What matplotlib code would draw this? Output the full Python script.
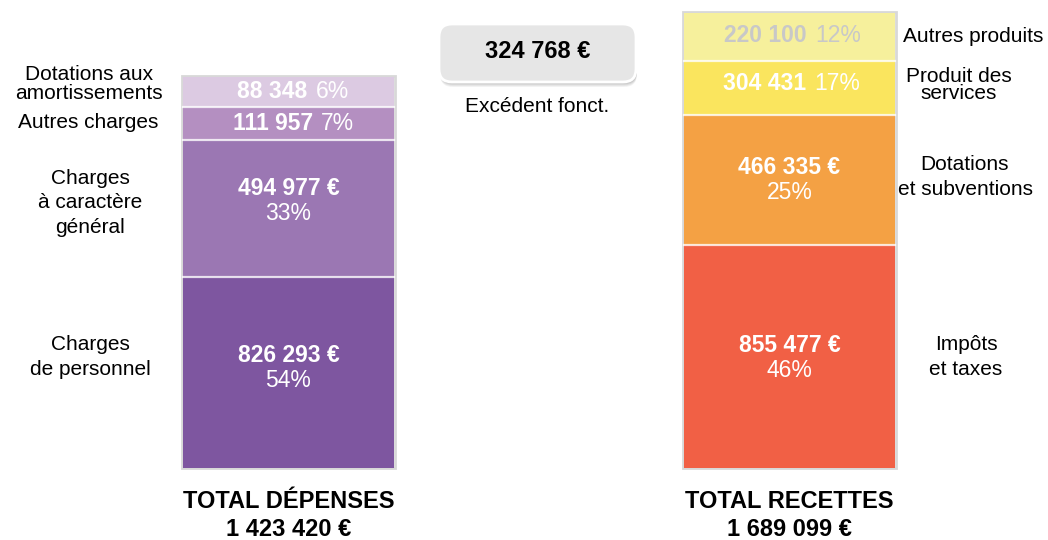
import matplotlib
matplotlib.use("Agg")
import matplotlib.pyplot as plt
from matplotlib.patches import FancyBboxPatch, Rectangle

plt.rcParams['font.family'] = ['Liberation Sans', 'DejaVu Sans']

# ---------------- data ----------------
dep_labels = ["Charges\nde personnel", "Charges\nà caractère\ngénéral", "Autres charges", "Dotations aux\namortissements"]
dep_values = ["826 293 €", "494 977 €", "111 957", "88 348"]
dep_pct = ["54%", "33%", "7%", "6%"]
dep_heights = [191, 137, 33, 30]          # segment heights as drawn in the picture
dep_colors = ["#7e56a0", "#9b77b3", "#b48fc1", "#dccae2"]

rec_labels = ["Impôts\net taxes", "Dotations\net subventions", "Produit des\nservices", "Autres produits"]
rec_values = ["855 477 €", "466 335 €", "304 431", "220 100"]
rec_pct = ["46%", "25%", "17%", "12%"]
rec_heights = [223, 130, 54, 48]
rec_colors = ["#f16045", "#f4a144", "#fae55e", "#f6f09c"]
rec_text_colors = ["white", "white", "white", "#c8c8c8"]

total_dep = "1 423 420 €"
total_rec = "1 689 099 €"
excedent = "324 768 €"

# ---------------- figure ----------------
W, H = 1048, 540
fig = plt.figure(figsize=(W / 100, H / 100), dpi=100)
ax = fig.add_axes([0, 0, 1, 1])
ax.set_xlim(0, W)
ax.set_ylim(0, H)
ax.axis('off')

base = H - 468
bar_w = 211
xl = 183 + bar_w / 2
xr = 684 + bar_w / 2


def stack(xc, heights, colors):
    bottoms = []
    b = base
    for h, c in zip(heights, colors):
        ax.bar(xc, h, bottom=b, width=bar_w, color=c, edgecolor='none', zorder=2)
        bottoms.append(b)
        b += h
    for bb in bottoms[1:]:
        ax.plot([xc - bar_w / 2, xc + bar_w / 2], [bb, bb], color='white', lw=1.6, alpha=0.8, zorder=3)
    ax.add_patch(Rectangle((xc - bar_w / 2 - 1, base), bar_w + 2, b - base + 1,
                           fill=False, edgecolor='#d8d8d8', lw=2.0, zorder=1))
    return bottoms


stack(xl, dep_heights, dep_colors)
stack(xr, rec_heights, rec_colors)

fs = 15
vfs = 16.5


def two_line(xc, yc, val, pct, col='white'):
    ax.text(xc, yc + 12.5, val, ha='center', va='center', fontsize=vfs, fontweight='bold', color=col, zorder=4)
    ax.text(xc, yc - 12.5, pct, ha='center', va='center', fontsize=vfs, color=col, zorder=4)


def one_line(xsplit, yc, val, pct, col='white'):
    ax.text(xsplit, yc, val, ha='right', va='center', fontsize=vfs, fontweight='bold', color=col, zorder=4)
    ax.text(xsplit + 8, yc, pct, ha='left', va='center', fontsize=vfs, color=col, zorder=4)


# left values
two_line(xl, H - 368, dep_values[0], dep_pct[0])
two_line(xl, H - 201, dep_values[1], dep_pct[1])
one_line(xl + 24.5, H - 124, dep_values[2], dep_pct[2])
one_line(xl + 19, H - 92, dep_values[3], dep_pct[3])

# right values
two_line(xr, H - 358, rec_values[0], rec_pct[0])
two_line(xr, H - 180, rec_values[1], rec_pct[1])
one_line(xr + 17, H - 84, rec_values[2], rec_pct[2], rec_text_colors[2])
one_line(xr + 17.5, H - 36, rec_values[3], rec_pct[3], rec_text_colors[3])

# category labels left
ax.text(90, H - 357, dep_labels[0], ha='center', va='center', fontsize=fs, linespacing=1.36)
ax.text(90, H - 203, dep_labels[1], ha='center', va='center', fontsize=fs, linespacing=1.36)
ax.text(88, H - 122, dep_labels[2], ha='center', va='center', fontsize=fs)
ax.text(89, H - 84, dep_labels[3], ha='center', va='center', fontsize=fs, linespacing=0.98)

# category labels right
ax.text(966, H - 357, rec_labels[0], ha='center', va='center', fontsize=fs, linespacing=1.36)
ax.text(965, H - 177, rec_labels[1], ha='center', va='center', fontsize=fs, linespacing=1.36)
ax.text(959, H - 85, rec_labels[2], ha='center', va='center', fontsize=fs, linespacing=0.83)
ax.text(973, H - 36, rec_labels[3], ha='center', va='center', fontsize=fs)

# totals
tkw = dict(ha='center', va='center', fontweight='bold', fontsize=17)
ax.text(xl, H - 502, "TOTAL DÉPENSES", **tkw)
ax.text(xl, H - 529, total_dep, **tkw)
ax.text(xr, H - 502, "TOTAL RECETTES", **tkw)
ax.text(xr, H - 529, total_rec, **tkw)

# excedent box with shadow
bx, by, bw, bh = 439, H - 82, 197, 58
for i, a in enumerate([0.10, 0.12, 0.15, 0.18]):
    ax.add_patch(FancyBboxPatch((bx + 1, by - 5 + i), bw, bh, boxstyle="round,pad=0,rounding_size=13",
                                facecolor='#888888', edgecolor='none', alpha=a, zorder=1))
box = FancyBboxPatch((bx, by), bw, bh, boxstyle="round,pad=0,rounding_size=13",
                     facecolor='#e6e6e6', edgecolor='white', lw=2, zorder=2)
ax.add_patch(box)
ax.text(bx + bw / 2, by + bh / 2 + 2, excedent, ha='center', va='center', fontsize=17, fontweight='bold', zorder=3)
ax.text(537, H - 107, "Excédent fonct.", ha='center', va='center', fontsize=fs)

fig.savefig("out.png", dpi=100)
